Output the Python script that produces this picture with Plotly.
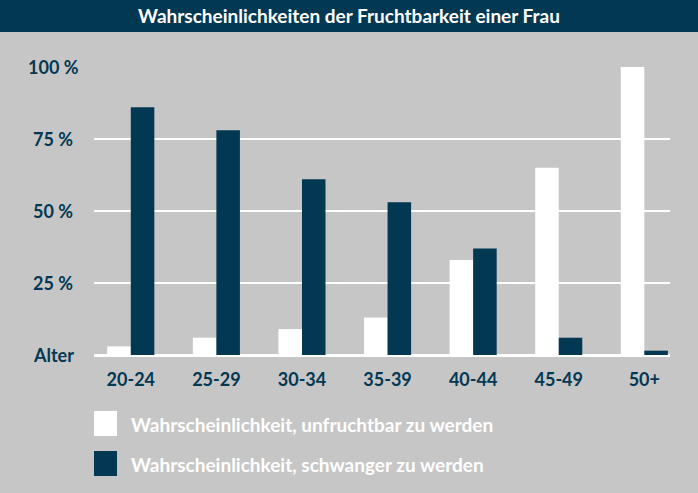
import plotly.graph_objects as go

categories = ["20-24", "25-29", "30-34", "35-39", "40-44", "45-49", "50+"]
unfruchtbar = [3, 6, 9, 13, 33, 65, 100]
schwanger = [86, 78, 61, 53, 37, 6, 1.5]
series_names = ["Wahrscheinlichkeit, unfruchtbar zu werden",
                "Wahrscheinlichkeit, schwanger zu werden"]
y_tickvals = [0, 25, 50, 75, 100]
y_ticktext = ["Alter", "25 %", "50 %", "75 %", "100 %"]
title_text = "Wahrscheinlichkeiten der Fruchtbarkeit einer Frau"

NAVY = "#033853"
BG = "#c6c6c6"
FONT = "Lato"

W, H = 698, 493
ml, mr, mt, mb = 94, 28, 67, 138
pw, ph = W - ml - mr, H - mt - mb

def px2x(px):
    return (px - ml) / pw

def py2y(py):
    return (H - mb - py) / ph

fig = go.Figure()
fig.add_trace(go.Bar(x=categories, y=unfruchtbar, name=series_names[0],
                     marker=dict(color="white", line=dict(width=0)), showlegend=False))
fig.add_trace(go.Bar(x=categories, y=schwanger, name=series_names[1],
                     marker=dict(color=NAVY, line=dict(width=0)), showlegend=False))

shapes = [
    dict(type="rect", xref="paper", yref="paper", x0=px2x(0), x1=px2x(W),
         y0=py2y(32), y1=py2y(0), fillcolor=NAVY, line=dict(width=0), layer="below"),
]
annotations = []
for v, t in zip(y_tickvals, y_ticktext):
    annotations.append(dict(x=px2x(53), y=v, xref="paper", yref="y", text=t,
                            showarrow=False, xanchor="center", yanchor="middle",
                            font=dict(family=FONT, size=18, color=NAVY, weight="bold")))

legend_rows = [(411, "white"), (451, NAVY)]
for (top, col), name in zip(legend_rows, series_names):
    shapes.append(dict(type="rect", xref="paper", yref="paper",
                       x0=px2x(94), x1=px2x(117), y0=py2y(top + 25), y1=py2y(top),
                       fillcolor=col, line=dict(width=0)))
    annotations.append(dict(x=px2x(129), y=py2y(top + 13), xref="paper", yref="paper",
                            text=name, showarrow=False, xanchor="left", yanchor="middle",
                            font=dict(family=FONT, size=19, color="white", weight="bold")))

fig.update_layout(
    width=W, height=H,
    margin=dict(l=ml, r=mr, t=mt, b=mb, pad=0),
    paper_bgcolor=BG, plot_bgcolor=BG,
    barmode="group", bargap=0.45, bargroupgap=0,
    title=dict(text=title_text, x=0.5, xanchor="center", y=1 - 16 / H, yanchor="middle",
               font=dict(family=FONT, size=19, color="white", weight="bold")),
    shapes=shapes, annotations=annotations,
    xaxis=dict(type="category", range=[-0.43, 6.3], showgrid=False, zeroline=False,
               showline=False, ticks="", ticklabelstandoff=12,
               tickfont=dict(family=FONT, size=18, color=NAVY, weight="bold")),
    yaxis=dict(range=[0, 100], tickvals=y_tickvals, showticklabels=False,
               showgrid=True, gridcolor="white", gridwidth=1.5,
               zeroline=True, zerolinecolor="white", zerolinewidth=3, showline=False),
    showlegend=False,
)

fig.write_html("out.html", config={"displayModeBar": False},
               post_script="document.body.style.margin='0';")
